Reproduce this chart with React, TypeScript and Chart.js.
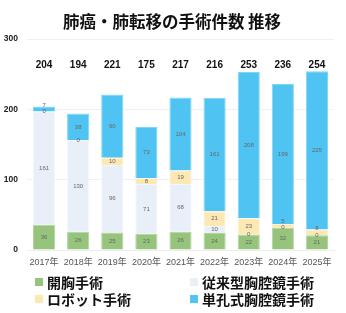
import React, { useEffect, useRef } from "react";
import { Chart, registerables } from "chart.js";

Chart.register(...registerables);

const years = ["2017年", "2018年", "2019年", "2020年", "2021年", "2022年", "2023年", "2024年", "2025年"];
const openSurgery = [36, 26, 25, 23, 26, 24, 22, 32, 21];
const conventionalVATS = [161, 130, 96, 71, 68, 10, 0, 0, 0];
const robotSurgery = [0, 0, 10, 8, 19, 21, 23, 5, 8];
const uniportalVATS = [7, 38, 90, 73, 104, 161, 208, 199, 225];
const totals = [204, 194, 221, 175, 217, 216, 253, 236, 254];
const yTicks = [0, 100, 200, 300];
const titleText = "肺癌・肺転移の手術件数 推移";

const seriesNames = ["開胸手術", "従来型胸腔鏡手術", "ロボット手術", "単孔式胸腔鏡手術"];
const seriesColors = ["#97c47c", "#e8eff9", "#fde8b4", "#4fc4f2"];
const seriesBorders = ["#b2d59d", "#f3f7fc", "#fff1cc", "#82d5f6"];

const FONT = '"Liberation Sans", "Noto Sans CJK JP", sans-serif';
const CJK = '"Noto Sans CJK JP", sans-serif';

const overlayPlugin = {
  id: "overlay",
  afterDatasetsDraw(chart: any) {
    const ctx = chart.ctx;
    const area = chart.chartArea;
    ctx.save();
    ctx.font = `6px ${FONT}`;
    ctx.fillStyle = "#666";
    ctx.textAlign = "center";
    ctx.textBaseline = "middle";
    const n = chart.data.labels.length;
    for (let i = 0; i < n; i++) {
      let prevY: number | null = null;
      for (let d = 0; d < chart.data.datasets.length; d++) {
        const meta = chart.getDatasetMeta(d);
        const bar = meta.data[i];
        const v = chart.data.datasets[d].data[i];
        let y = (bar.y + bar.base) / 2;
        if (prevY !== null && prevY - y < 6.5) y = prevY - 6.5;
        ctx.fillText(String(v), bar.x, y);
        prevY = y;
      }
    }
    ctx.font = `bold 10px ${FONT}`;
    ctx.fillStyle = "#111";
    const meta0 = chart.getDatasetMeta(0);
    for (let i = 0; i < n; i++) {
      ctx.fillText(String(totals[i]), meta0.data[i].x, area.top + 26);
    }
    ctx.restore();
  },
  afterDraw(chart: any) {
    const ctx = chart.ctx;
    ctx.save();
    ctx.font = `bold 16.5px ${CJK}`;
    ctx.fillStyle = "#111";
    ctx.textAlign = "center";
    ctx.textBaseline = "middle";
    ctx.fillText(titleText, 172, 22);
    const pos = [
      [35, 282],
      [190, 282],
      [35, 299],
      [190, 299],
    ];
    ctx.font = `bold 14px ${CJK}`;
    ctx.textAlign = "left";
    [0, 1, 2, 3].forEach((d, k) => {
      const [x, y] = pos[k];
      ctx.fillStyle = seriesColors[d];
      ctx.fillRect(x, y - 4, 8, 8);
      ctx.fillStyle = "#111";
      ctx.fillText(seriesNames[d], x + 12, y + 0.5);
    });
    ctx.restore();
  },
};

export default function App() {
  const ref = useRef<HTMLCanvasElement>(null);
  useEffect(() => {
    document.body.style.margin = "0";
    const values = [openSurgery, conventionalVATS, robotSurgery, uniportalVATS];
    const chart = new Chart(ref.current!, {
      type: "bar",
      data: {
        labels: years,
        datasets: values.map((vals, d) => ({
          label: seriesNames[d],
          data: vals,
          backgroundColor: seriesColors[d],
          borderColor: seriesBorders[d],
          borderWidth: 1,
          categoryPercentage: 0.65,
          barPercentage: 1,
        })),
      },
      options: {
        animation: false,
        responsive: false,
        maintainAspectRatio: false,
        layout: { padding: { top: 39, right: 12, bottom: 40, left: 0 } },
        plugins: { legend: { display: false }, tooltip: { enabled: false }, title: { display: false } },
        scales: {
          x: {
            stacked: true,
            grid: { display: false, drawTicks: false },
            border: { display: true, color: "#eeeeee" },
            ticks: { font: { size: 9, family: FONT }, color: "#555", padding: 7, maxRotation: 0, minRotation: 0, autoSkip: false },
            afterFit: (s: any) => { s.height = 23; },
          },
          y: {
            stacked: true,
            min: 0,
            max: 300,
            afterBuildTicks: (s: any) => { s.ticks = yTicks.map((v) => ({ value: v })); },
            grid: { color: "#f0f0f0", drawTicks: false },
            border: { display: false },
            ticks: { font: { size: 8.5, weight: "bold", family: FONT }, color: "#222", padding: 9 },
            afterFit: (s: any) => { s.width = 27; },
          },
        },
      },
      plugins: [overlayPlugin],
    });
    return () => chart.destroy();
  }, []);
  return (
    <div style={{ width: 346, height: 313 }}>
      <canvas ref={ref} width={346} height={313} style={{ display: "block" }} />
    </div>
  );
}
